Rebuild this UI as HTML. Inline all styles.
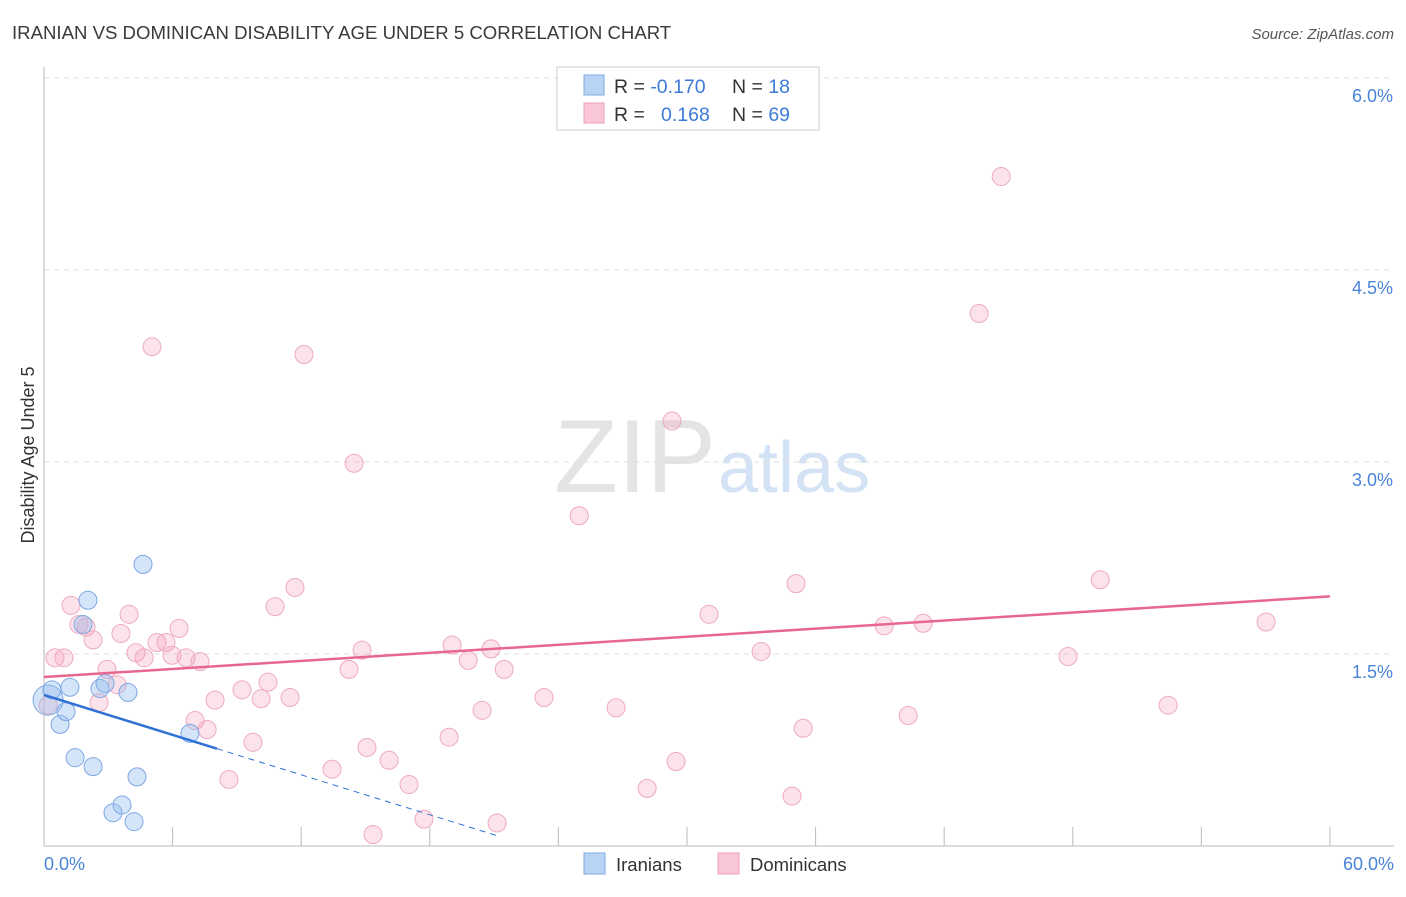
<!DOCTYPE html>
<html><head><meta charset="utf-8"><style>
body{margin:0;background:#fff;font-family:"Liberation Sans",sans-serif}
svg text{font-family:"Liberation Sans",sans-serif}
</style></head><body>
<svg id="chart" width="1406" height="892">
<text x="12" y="39" font-size="18.6" fill="#3a3a3a">IRANIAN VS DOMINICAN DISABILITY AGE UNDER 5 CORRELATION CHART</text>
<text x="1394" y="39" font-size="15" fill="#555" text-anchor="end" font-style="italic">Source: ZipAtlas.com</text>
<text x="716" y="492" font-size="104" fill="#e4e4e4" text-anchor="end" font-family="Liberation Serif">ZIP</text>
<text x="718" y="492" font-size="72" fill="#d4e2f5">atlas</text>
<g id="grid"></g><g id="axes"></g><g id="pts"></g><g id="trend"></g>
<text x="34" y="455" font-size="18" fill="#333" text-anchor="middle" transform="rotate(-90 34 455)">Disability Age Under 5</text>
<text x="44" y="870" font-size="18" fill="#4a84d8">0.0%</text>
<text x="1394" y="870" font-size="18" fill="#4a84d8" text-anchor="end">60.0%</text>
<g>
<rect x="557" y="67" width="262" height="63" fill="#fff" stroke="#ccc"/>
<rect x="584" y="75" width="20" height="20" fill="#b9d3f5" stroke="#7fa8e0"/>
<rect x="584" y="103" width="20" height="20" fill="#f9c6d5" stroke="#eca0b7"/>
<text x="614" y="93" font-size="19.5" fill="#333">R = <tspan fill="#3d7ad8">-0.170</tspan><tspan x="732">N = </tspan><tspan fill="#3d7ad8">18</tspan></text>
<text x="614" y="121" font-size="19.5" fill="#333">R = <tspan x="661" fill="#3d7ad8">0.168</tspan><tspan x="732">N = </tspan><tspan fill="#3d7ad8">69</tspan></text>
</g>
<g><rect x="584" y="853" width="21" height="21" fill="#b9d3f5" stroke="#7fa8e0"/><text x="616" y="871" font-size="18.5" fill="#333">Iranians</text></g>
<g><rect x="718" y="853" width="21" height="21" fill="#f9c6d5" stroke="#eca0b7"/><text x="750" y="871" font-size="18.5" fill="#333">Dominicans</text></g>
</svg>
<script>
const yTicks=[1.5,3.0,4.5,6.0];
const iranX=[0.19,0.37,0.75,1.03,1.21,1.45,2.05,1.82,2.29,2.61,2.85,3.22,3.64,3.92,4.34,4.20,4.62,6.81];
const iranY=[1.14,1.22,0.95,1.05,1.24,0.69,1.92,1.73,0.62,1.23,1.27,0.26,0.32,1.20,0.54,0.19,2.20,0.88];
const domPx=[55,64,71,79,86,93,99,107,117,121,129,136,144,152,157,166,172,179,186,195,200,207,215,229,242,253,261,268,275,290,295,304,332,349,354,362,367,373,389,409,424,449,452,468,482,491,497,504,544,579,616,647,672,676,709,761,792,796,803,884,908,923,979,1001,1068,1100,1168,1266,48];
const domPy=[658,658,605,625,627,640,703,670,685,633,614,653,658,347,643,643,655,629,658,720,662,729,700,780,690,742,699,682,607,698,587,355,769,669,463,650,747,835,760,784,819,737,645,660,710,649,823,669,697,516,708,788,421,761,614,652,796,584,728,626,716,623,314,177,656,580,705,622,705];
const domX=domPx.map(p=>+((p-44)/21.43).toFixed(2));
const domY=domPy.map(p=>+((846-p)/128).toFixed(2));
const iranTrend=[1.18,-0.052], domTrend=[1.32,0.0105];
const X=v=>44+v*21.433, Y=v=>846-v*128;
const NS='http://www.w3.org/2000/svg';
function mk(par,tag,at){const e=document.createElementNS(NS,tag);for(const k in at)e.setAttribute(k,at[k]);document.getElementById(par).appendChild(e);return e;}
yTicks.forEach(t=>{
 const l=mk('grid','line',{x1:44,x2:1394,y1:Y(t),y2:Y(t),stroke:'#ddd','stroke-dasharray':'5,5'});
 
 
 const tx=mk('grid','text',{x:1393,y:Y(t)+24,'font-size':18,fill:'#4a84d8','text-anchor':'end'});tx.textContent=t.toFixed(1)+'%';
 
 
});
let a=mk('axes','line',{x1:44,x2:44,y1:67,y2:846,stroke:'#bbb'});


a=mk('axes','line',{x1:44,x2:1394,y1:846,y2:846,stroke:'#bbb'});


for(let i=1;i<=10;i++){const t=mk('axes','line',{x1:X(i*6),x2:X(i*6),y1:827,y2:846,stroke:'#bbb'});
 
 }
domX.forEach((v,i)=>{const c=mk('pts','circle',{cx:X(v),cy:Y(domY[i]),r:9,fill:'rgba(245,160,185,0.3)',stroke:'#eeaabf','stroke-width':1});
 
 });
iranX.forEach((v,i)=>{const c=mk('pts','circle',{cx:X(v),cy:Y(iranY[i]),r:i==0?15:9,fill:'rgba(150,190,240,0.4)',stroke:'#7ea7e3','stroke-width':1});
 
 });
let t=mk('trend','line',{x1:X(0),y1:Y(domTrend[0]),x2:X(60),y2:Y(domTrend[0]+60*domTrend[1]),stroke:'#e8678f','stroke-width':2.5});


t=mk('trend','line',{x1:X(0),y1:Y(iranTrend[0]),x2:X(8.07),y2:Y(iranTrend[0]+8.07*iranTrend[1]),stroke:'#2f72d6','stroke-width':2.5});


t=mk('trend','line',{x1:X(8.07),y1:Y(iranTrend[0]+8.07*iranTrend[1]),x2:X(21.3),y2:Y(iranTrend[0]+21.3*iranTrend[1]),stroke:'#2f72d6','stroke-width':1,'stroke-dasharray':'6,5'});


</script>
</body></html>
